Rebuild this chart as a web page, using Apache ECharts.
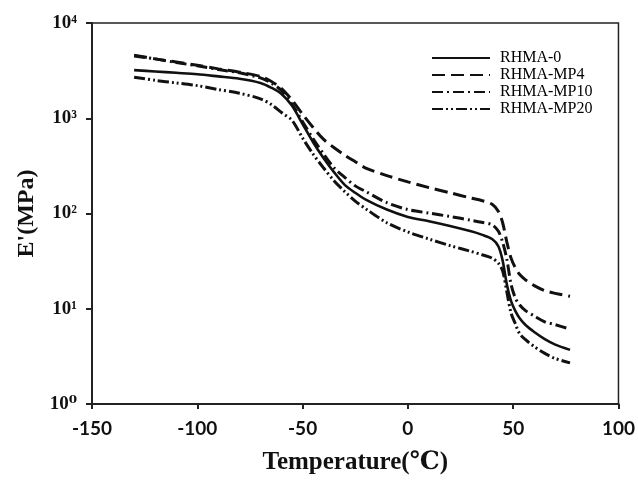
<!DOCTYPE html>
<html><head><meta charset="utf-8">
<script src="https://cdn.jsdelivr.net/npm/echarts@6/dist/echarts.min.js"></script>
<style>html,body{margin:0;padding:0;background:#fff}#c{width:638px;height:485px}</style>
</head><body><div id="c"></div>
<script>
const temps = [-130,-120,-110,-100,-90,-80,-70,-65,-60,-55,-50,-45,-40,-35,-30,-25,-20,-10,0,10,20,30,35,40,43,45,47,49,51,53,56,60,65,70,77];
const rhma0  = [3200,3100,3000,2900,2750,2600,2350,2100,1800,1350,870,560,380,270,200,165,140,110,92,83,74,65,60,54,45,32,18,12,9.5,8,6.7,5.7,4.8,4.2,3.7];
const rhmaMP4  = [4600,4200,3900,3600,3300,3050,2750,2450,2050,1550,1100,800,600,490,410,350,300,250,215,187,165,145,137,125,105,80,50,34,27,23,20,17.5,15.5,14.5,13.5];
const rhmaMP10 = [4500,4200,3850,3550,3250,3000,2650,2350,1950,1400,920,610,420,300,240,195,170,130,110,101,93,85,81,76,65,50,33,18,13,11,9.5,8.4,7.3,6.8,6.1];
const rhmaMP20 = [2700,2500,2350,2200,2000,1830,1600,1400,1150,950,620,420,300,220,170,135,112,80,64,54,46,40,37,34,30,25,15,9,7,5.5,4.7,4,3.4,3,2.7];
const seriesNames = ['RHMA-0','RHMA-MP4','RHMA-MP10','RHMA-MP20'];
const xTicks = [-150,-100,-50,0,50,100];
const yTickExps = [0,1,2,3,4];
const supDigits = ['\u2070','\u00b9','\u00b2','\u00b3','\u2074'];

function pairs(arr){ return temps.map((t,i)=>[t,arr[i]]); }
const dashes = ['solid',[13,6],[11,4,2,4],[11,3,2,3,2,3]];
const widths = [2.6,3,3,3];
const data = [rhma0, rhmaMP4, rhmaMP10, rhmaMP20];
const serif = '"Liberation Serif","DejaVu Serif",serif';
const sans = 'Lato,"Open Sans",sans-serif';

const chart = echarts.init(document.getElementById('c'));
chart.setOption({
  animation:false,
  backgroundColor:'#fff',
  grid:{left:92,right:17,top:23,bottom:81,show:true,borderColor:'#222',borderWidth:1.5,backgroundColor:'transparent'},
  legend:{
    data:seriesNames, orient:'vertical', left:426, top:45, itemWidth:58, itemHeight:10, itemGap:1,
    itemStyle:{opacity:0},
    textStyle:{fontFamily:serif,fontSize:16,color:'#000',padding:[0,0,0,5]}
  },
  xAxis:{
    type:'value', min:xTicks[0], max:xTicks[xTicks.length-1], interval:50,
    name:'Temperature(\u2103)', nameLocation:'middle', nameGap:46,
    nameTextStyle:{fontFamily:serif,fontSize:25,fontWeight:'bold',color:'#111'},
    axisLine:{onZero:false,lineStyle:{color:'#222',width:2}},
    axisTick:{show:true,inside:false,length:5,lineStyle:{color:'#222',width:2}},
    axisLabel:{fontFamily:sans,fontSize:19,fontWeight:'bold',color:'#111',margin:15},
    splitLine:{show:false}
  },
  yAxis:{
    type:'log', logBase:10, min:Math.pow(10,yTickExps[0]), max:Math.pow(10,yTickExps[yTickExps.length-1]),
    name:"E'(MPa)", nameLocation:'middle', nameGap:53, nameRotate:90,
    nameTextStyle:{fontFamily:serif,fontSize:24,fontWeight:'bold',color:'#111'},
    axisLine:{show:true,onZero:false,lineStyle:{color:'#222',width:2}},
    axisTick:{show:true,inside:false,length:6,lineStyle:{color:'#222',width:2}},
    minorTick:{show:false},
    axisLabel:{
      margin:15,
      fontFamily:serif, fontSize:19, fontWeight:'bold', color:'#111',
      formatter:function(v){ const e=Math.round(Math.log10(v)); return '10' + supDigits[e]; }
    },
    splitLine:{show:false}
  },
  series: seriesNames.map((n,i)=>({
    name:n, type:'line', data:pairs(data[i]), smooth:0.3, symbol:'none', showSymbol:false,
    lineStyle:{color:'#111',width:widths[i],type:dashes[i]}, itemStyle:{color:'#111'}
  }))
});
</script></body></html>
